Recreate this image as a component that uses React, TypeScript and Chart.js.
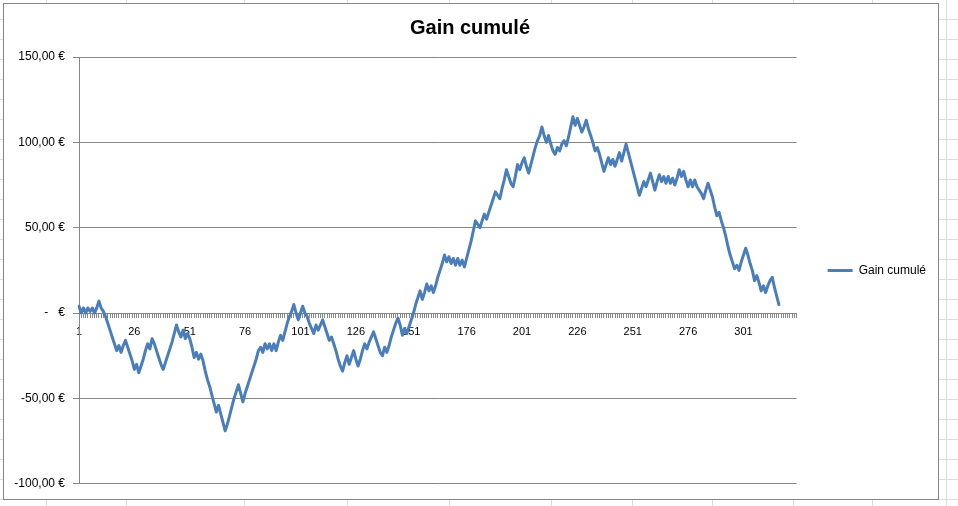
import React, { useEffect, useRef } from 'react';
import { Chart, registerables } from 'chart.js';

Chart.register(...registerables);

// ---------- data ----------
const categoryCount = 325;
const categories: string[] = Array.from({ length: categoryCount }, (_, i) => String(i + 1));

const gainCumule: number[] = [
  4, 0, 3, 0, 3, 1, 3, 0, 3, 7,
  3, 1, -2, -6, -10, -14, -18, -22, -19, -23,
  -19, -16, -20, -24, -28, -33, -30, -35, -31, -27,
  -22, -18, -21, -15, -18, -22, -26, -30, -33, -29,
  -25, -21, -17, -12, -7, -11, -14, -10, -15, -12,
  -15, -20, -26, -23, -27, -24, -28, -34, -39, -43,
  -48, -53, -58, -54, -59, -64, -69, -65, -60, -55,
  -50, -46, -42, -47, -52, -47, -43, -39, -35, -31,
  -27, -22, -20, -23, -18, -21, -18, -22, -18, -22,
  -17, -13, -16, -11, -6, -2, 1, 5, 0, -4,
  0, 4, 0, -2, -6, -9, -12, -7, -10, -7,
  -4, -8, -12, -16, -14, -18, -22, -27, -31, -34,
  -29, -25, -30, -26, -22, -27, -31, -27, -22, -18,
  -21, -17, -14, -11, -15, -19, -23, -25, -20, -23,
  -19, -14, -10, -6, -3, -7, -13, -9, -12, -8,
  -4, 0, 5, 9, 13, 8, 12, 17, 13, 16,
  12, 16, 21, 25, 29, 34, 30, 33, 29, 32,
  28, 32, 28, 31, 27, 32, 37, 42, 48, 54,
  52, 50, 54, 58, 55, 59, 63, 67, 71, 69,
  67, 73, 78, 84, 80, 76, 74, 80, 87, 84,
  88, 91, 86, 82, 87, 92, 97, 101, 104, 109,
  104, 100, 104, 99, 95, 93, 97, 95, 99, 101,
  98, 103, 109, 115, 110, 114, 110, 106, 109, 113,
  108, 104, 100, 95, 97, 93, 88, 83, 87, 91,
  87, 90, 86, 90, 94, 89, 94, 99, 94, 89,
  84, 79, 74, 69, 73, 77, 74, 78, 82, 77,
  72, 77, 81, 77, 80, 76, 80, 76, 79, 75,
  79, 84, 80, 83, 78, 74, 78, 74, 78, 74,
  72, 70, 67, 72, 76, 72, 68, 62, 57, 59,
  54, 50, 45, 39, 34, 30, 26, 28, 25, 30,
  34, 38, 34, 29, 25, 19, 22, 18, 13, 16,
  12, 16, 19, 21, 15, 10, 5,
];

const yTickValues: number[] = [-100, -50, 0, 50, 100, 150];
const yTickLabels: string[] = ['-100,00 €', '-50,00 €', '-   €', '50,00 €', '100,00 €', '150,00 €'];
const xLabelEvery = 25;
const seriesName = 'Gain cumulé';
const chartTitle = 'Gain cumulé';

// ---------- styles ----------
const FONT = "'Liberation Sans', Arial, sans-serif";
const LINE_COLOR = '#4a7ebb';
const GRID_COLOR = '#868686';
const SHEET_LINE = '#dadcdd';
const sheetColumnXs = [46, 126, 244, 347, 449, 551, 632, 712, 793, 872, 946];

export default function App() {
  const canvasRef = useRef<HTMLCanvasElement>(null);

  useEffect(() => {
    const canvas = canvasRef.current;
    if (!canvas) return;
    const chart = new Chart(canvas, {
      type: 'line',
      data: {
        labels: categories,
        datasets: [
          {
            label: seriesName,
            data: gainCumule,
            borderColor: LINE_COLOR,
            backgroundColor: LINE_COLOR,
            borderWidth: 3,
            pointRadius: 0,
            pointHoverRadius: 0,
            tension: 0,
            fill: false,
            borderJoinStyle: 'round',
            borderCapStyle: 'round',
          },
        ],
      },
      options: {
        responsive: false,
        animation: false,
        events: [],
        layout: { padding: { left: 0, top: 0, right: 2, bottom: 15 } },
        scales: {
          x: {
            type: 'category',
            position: { y: 0 } as any,
            offset: false,
            grid: {
              display: true,
              drawOnChartArea: false,
              drawTicks: true,
              tickLength: 4,
              color: GRID_COLOR,
              lineWidth: 1,
            },
            border: { display: true, color: GRID_COLOR, width: 1 },
            ticks: {
              autoSkip: false,
              maxRotation: 0,
              minRotation: 0,
              padding: 8,
              color: '#000',
              font: { family: FONT, size: 11 },
              callback: (_v: any, i: number) => (i % xLabelEvery === 0 ? categories[i] : ''),
            },
          },
          y: {
            type: 'linear',
            min: -100,
            max: 150,
            afterFit: (s: any) => {
              s.width = 75;
            },
            afterBuildTicks: (s: any) => {
              s.ticks = yTickValues.map((v) => ({ value: v }));
            },
            grid: { color: GRID_COLOR, tickLength: 6, drawTicks: true, lineWidth: 1 },
            border: { display: true, color: GRID_COLOR, width: 1 },
            ticks: {
              padding: 8,
              color: '#000',
              font: { family: FONT, size: 12 },
              callback: (v: any) => {
                const idx = yTickValues.indexOf(Number(v));
                return idx >= 0 ? yTickLabels[idx] : '';
              },
            },
          },
        },
        plugins: {
          title: {
            display: true,
            text: chartTitle,
            color: '#000',
            font: { family: FONT, size: 20, weight: 'bold' },
            padding: { top: 12, bottom: 17 },
          },
          legend: {
            display: true,
            position: 'right',
            fullSize: false,
            align: 'center',
            labels: {
              usePointStyle: true,
              pointStyle: 'line',
              pointStyleWidth: 25,
              padding: 31,
              color: '#000',
              font: { family: FONT, size: 12 },
            },
          },
          tooltip: { enabled: false },
        },
      },
    });
    return () => chart.destroy();
  }, []);

  return (
    <div
      style={{
        position: 'absolute',
        left: 0,
        top: 0,
        width: 958,
        height: 506,
        overflow: 'hidden',
        background: '#fff',
        backgroundImage: `repeating-linear-gradient(to bottom, transparent 0px, transparent 19px, ${SHEET_LINE} 19px, ${SHEET_LINE} 20px)`,
      }}
    >
      {sheetColumnXs.map((x) => (
        <div
          key={x}
          style={{ position: 'absolute', left: x, top: 0, width: 1, height: 506, background: SHEET_LINE }}
        />
      ))}
      <div
        style={{
          position: 'absolute',
          left: 3,
          top: 3,
          width: 934,
          height: 495,
          border: '1px solid #868686',
          background: '#fff',
        }}
      >
        <canvas ref={canvasRef} width={934} height={495} style={{ display: 'block', width: 934, height: 495 }} />
      </div>
    </div>
  );
}
